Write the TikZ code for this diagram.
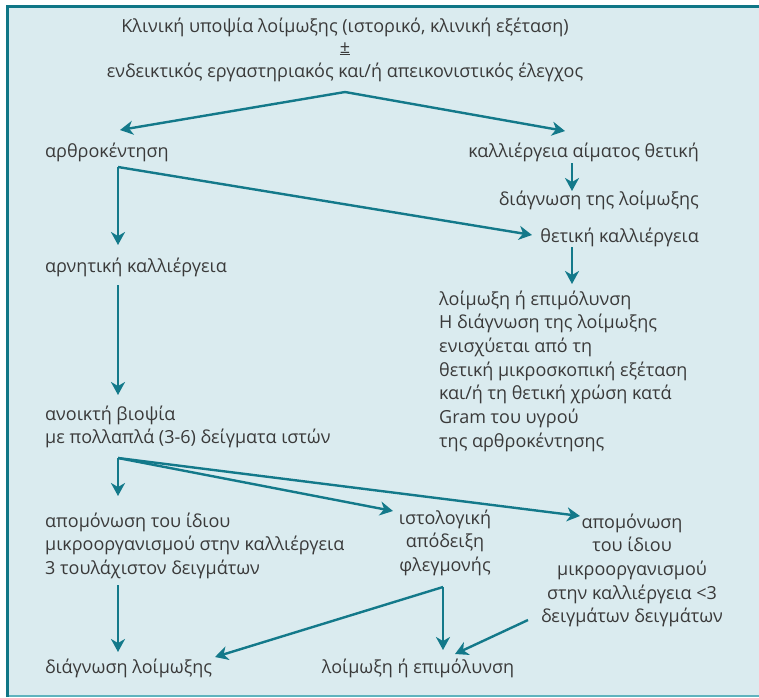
\documentclass[tikz,border=0pt]{standalone}
\usepackage{fontspec}
\setmainfont{Open Sans}
\usetikzlibrary{arrows.meta}
\definecolor{panelbg}{HTML}{DAEBEF}
\definecolor{frameteal}{HTML}{0F7686}
\definecolor{lineteal}{HTML}{5FB3BE}
\definecolor{flowteal}{HTML}{13798A}
\definecolor{txt}{HTML}{3A3A3A}
\tikzset{
  lbl/.style={inner sep=0pt, text=txt, font=\fontsize{18}{23.7}\selectfont},
  % multi-line nodes are placed by the baseline of their last line
  lbll/.style={lbl, anchor=base west, align=left},
  lblr/.style={lbl, anchor=base east, align=right},
  lblc/.style={lbl, anchor=base, align=center},
  flow/.style={draw=flowteal, line width=2.4pt,
    -{Stealth[length=13pt, width=14pt, inset=4pt]}},
}
\begin{document}
\begin{tikzpicture}[x=1pt, y=-1pt]
\useasboundingbox (0,0) rectangle (759,697);
% panel and its frame
\fill[panelbg] (7,6) rectangle (759,697);
\draw[lineteal, line width=2pt] (7,696) -- (759,696);
\draw[frameteal, line width=3pt] (7.5,697) -- (7.5,6) -- (759,6);

% texts
\node[lblc] (t1) at (345,32) {Κλινική υποψία λοίμωξης (ιστορικό, κλινική εξέταση)};
\node[lblc] (t2) at (345,53) {\underline{±}};
\node[lblc] (t3) at (345,77) {ενδεικτικός εργαστηριακός και/ή απεικονιστικός έλεγχος};
\node[lbll] (arth) at (45,157) {αρθροκέντηση};
\node[lblr] (blood) at (699,157) {καλλιέργεια αίματος θετική};
\node[lblr] (diag1) at (699,205) {διάγνωση της λοίμωξης};
\node[lblr] (pos) at (699,242) {θετική καλλιέργεια};
\node[lbll] (neg) at (45,272) {αρνητική καλλιέργεια};
\node[lbll] (inf1) at (439,447.2) {λοίμωξη ή επιμόλυνση\\Η διάγνωση της λοίμωξης\\ενισχύεται από τη\\θετική μικροσκοπική εξέταση\\και/ή τη θετική χρώση κατά\\Gram του υγρού\\της αρθροκέντησης};
\node[lbll] (biop) at (45,443.7) {ανοικτή βιοψία\\με πολλαπλά (3-6) δείγματα ιστών};
\node[lbll] (iso3) at (45,574.4) {απομόνωση του ίδιου\\μικροοργανισμού στην καλλιέργεια\\3 τουλάχιστον δειγμάτων};
\node[lblc] (hist) at (445,571.4) {ιστολογική\\απόδειξη\\φλεγμονής};
\node[lblc] (isoless) at (632,622.8) {απομόνωση\\του ίδιου\\μικροοργανισμού\\στην καλλιέργεια <3\\δειγμάτων δειγμάτων};
\node[lbll] (diag2) at (45,673) {διάγνωση λοίμωξης};
\node[lblc] (inf2) at (418,673) {λοίμωξη ή επιμόλυνση};

% connector end points
\coordinate (c0) at (345,92);
\coordinate (c0l) at (120,130);
\coordinate (c0r) at (565,131);
\coordinate (c1) at (118,167);
\coordinate (c1d) at (118,245);
\coordinate (c1r) at (532,235);
\coordinate (c2) at (572,163);
\coordinate (c2d) at (572,191);
\coordinate (c3) at (572,247);
\coordinate (c3d) at (572,284);
\coordinate (c4) at (118,285);
\coordinate (c4d) at (118,395);
\coordinate (c5) at (118,458);
\coordinate (c5d) at (118,496);
\coordinate (c5m) at (393,511);
\coordinate (c5r) at (580,516);
\coordinate (c6) at (118,585);
\coordinate (c6d) at (118,652);
\coordinate (c7) at (443,587);
\coordinate (c7d) at (443,650);
\coordinate (c7l) at (215,657);
\coordinate (c8) at (528,620);
\coordinate (c8d) at (455,654);

% connectors
\draw[flow] (c0) -- (c0l);
\draw[flow] (c0) -- (c0r);
\draw[flow] (c1) -- (c1d);
\draw[flow] (c1) -- (c1r);
\draw[flow] (c2) -- (c2d);
\draw[flow] (c3) -- (c3d);
\draw[flow] (c4) -- (c4d);
\draw[flow] (c5) -- (c5d);
\draw[flow] (c5) -- (c5m);
\draw[flow] (c5) -- (c5r);
\draw[flow] (c6) -- (c6d);
\draw[flow] (c7) -- (c7d);
\draw[flow] (c7) -- (c7l);
\draw[flow] (c8) -- (c8d);
\end{tikzpicture}
\end{document}
